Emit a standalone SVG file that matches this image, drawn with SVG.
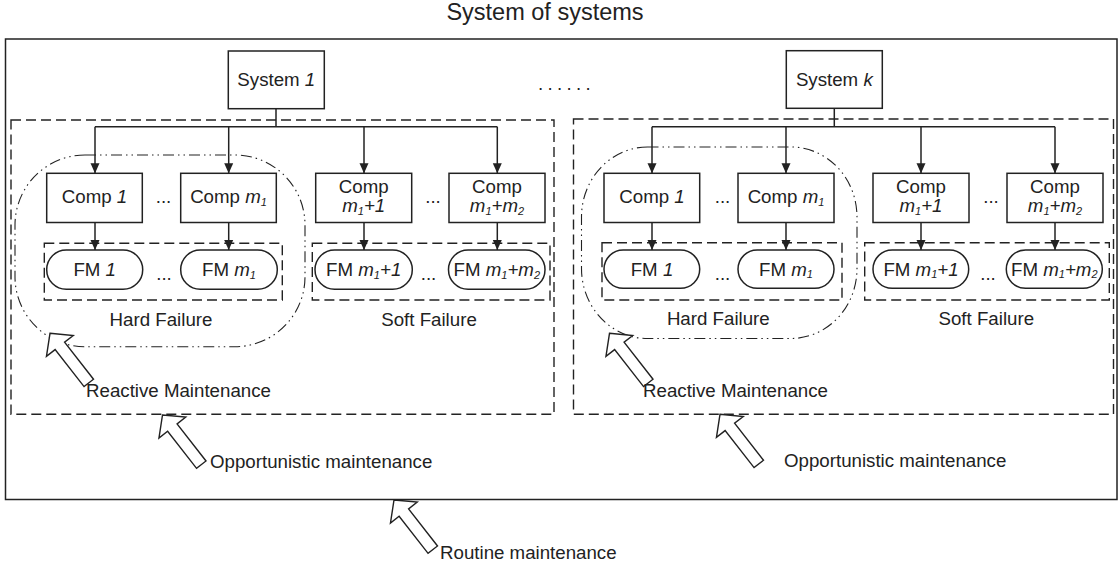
<svg xmlns="http://www.w3.org/2000/svg" xmlns:xlink="http://www.w3.org/1999/xlink" width="1118" height="568" viewBox="0 0 1118 568">
<style>
.t{font-family:"Liberation Sans",Arial,sans-serif;font-size:18.7px;fill:#222}
.ti{font-size:23.5px}
.i{font-style:italic}
.s{font-size:11px;font-style:italic}
.box{fill:#fff;stroke:#222;stroke-width:1.5}
.dash{fill:none;stroke:#222;stroke-width:1.4;stroke-dasharray:10 5}
.dd{fill:none;stroke:#222;stroke-width:1.1;stroke-dasharray:11 4 1.5 4 1.5 4}
.ln{fill:none;stroke:#222;stroke-width:1.5}
.ha{fill:#fff;stroke:#222;stroke-width:1.4;stroke-linejoin:miter}
</style>
<defs>
<marker id="ah" markerUnits="userSpaceOnUse" markerWidth="10" markerHeight="10" refX="10" refY="5" orient="auto">
<path d="M0,0.5 L10,5 L0,9.5 Z" fill="#222"/>
</marker>
<path id="hollow" d="M0,0 L17,16 L6,16 L6,63 L-6,63 L-6,16 L-17,16 Z"/>
</defs>

<rect id="outer" x="5.5" y="39" width="1111.5" height="460.5" fill="none" stroke="#222" stroke-width="1.5"/>
<text class="t ti" x="545" y="20" text-anchor="middle">System of systems</text>
<text class="t" x="538" y="90" letter-spacing="4.3">......</text>

<!-- Group 1 -->
<g id="group1">
<rect class="dash" x="11" y="120" width="543" height="294.3"/>
<rect class="dd" x="15" y="155" width="290" height="191.7" rx="70" ry="70"/>
<rect class="dash" x="44.3" y="243.3" width="238" height="56.7"/>
<rect class="dash" x="312.3" y="243.3" width="237.7" height="56.7"/>
</g>
<!-- Group 2 -->
<g id="group2">
<rect class="dash" x="573.5" y="119" width="540" height="295.3"/>
<rect class="dd" x="581.5" y="147" width="275.5" height="191.5" rx="66" ry="70"/>
<rect class="dash" x="602" y="242.7" width="240" height="57.3"/>
<rect class="dash" x="864.7" y="242.7" width="244.6" height="57.3"/>
</g>

<g id="connectors">
<path class="ln" d="M276,108.7 V126.7 M95,126.7 H497.3"/>
<path class="ln" marker-end="url(#ah)" d="M95,126.7 V173.3"/>
<path class="ln" marker-end="url(#ah)" d="M228.7,126.7 V173.3"/>
<path class="ln" marker-end="url(#ah)" d="M364,126.7 V173.3"/>
<path class="ln" marker-end="url(#ah)" d="M497.3,126.7 V173.3"/>
<path class="ln" marker-end="url(#ah)" d="M95,222.5 V250"/>
<path class="ln" marker-end="url(#ah)" d="M228.7,222.5 V250"/>
<path class="ln" marker-end="url(#ah)" d="M364,222.5 V250"/>
<path class="ln" marker-end="url(#ah)" d="M497.3,222.5 V250"/>
<path class="ln" d="M834.3,108.3 V126.7 M652,126.7 H1055"/>
<path class="ln" marker-end="url(#ah)" d="M652,126.7 V173.3"/>
<path class="ln" marker-end="url(#ah)" d="M786,126.7 V173.3"/>
<path class="ln" marker-end="url(#ah)" d="M921,126.7 V173.3"/>
<path class="ln" marker-end="url(#ah)" d="M1055,126.7 V173.3"/>
<path class="ln" marker-end="url(#ah)" d="M652,222.5 V250"/>
<path class="ln" marker-end="url(#ah)" d="M786,222.5 V250"/>
<path class="ln" marker-end="url(#ah)" d="M921,222.5 V250"/>
<path class="ln" marker-end="url(#ah)" d="M1055,222.5 V250"/>
</g>

<!-- System nodes -->
<g id="sys1"><rect class="box" x="228.3" y="51" width="96" height="57.7"/>
<text class="t" x="276.3" y="86" text-anchor="middle">System <tspan class="i">1</tspan></text></g>
<g id="sysk"><rect class="box" x="786.3" y="50.7" width="96" height="57.6"/>
<text class="t" x="834.3" y="85.5" text-anchor="middle">System <tspan class="i">k</tspan></text></g>

<!-- Components group 1 -->
<g id="c1a"><rect class="box" x="46.7" y="173.3" width="95.6" height="49.2"/>
<text class="t" x="94.5" y="203" text-anchor="middle">Comp <tspan class="i">1</tspan></text></g>
<g id="c1b"><rect class="box" x="180.7" y="173.3" width="95.6" height="49.2"/>
<text class="t" x="228.5" y="203" text-anchor="middle">Comp <tspan class="i">m</tspan><tspan class="s" dy="2.5">1</tspan></text></g>
<g id="c1c"><rect class="box" x="315.7" y="173.3" width="96" height="49.2"/>
<text class="t" x="363.7" y="192.7" text-anchor="middle">Comp</text>
<text class="t i" x="363.7" y="212.3" text-anchor="middle">m<tspan class="s" dy="2.5">1</tspan><tspan dy="-2.5">+1</tspan></text></g>
<g id="c1d"><rect class="box" x="449" y="173.3" width="96" height="49.2"/>
<text class="t" x="497" y="192.7" text-anchor="middle">Comp</text>
<text class="t i" x="497" y="212.3" text-anchor="middle">m<tspan class="s" dy="2.5">1</tspan><tspan dy="-2.5">+m</tspan><tspan class="s" dy="2.5">2</tspan></text></g>
<text class="t" x="163.5" y="203" text-anchor="middle" font-size="16">...</text>
<text class="t" x="433" y="203" text-anchor="middle" font-size="16">...</text>

<!-- FM group 1 -->
<g id="f1a"><rect class="box" x="46.7" y="250" width="96" height="39.3" rx="19.6"/>
<text class="t" x="94.7" y="276" text-anchor="middle">FM <tspan class="i">1</tspan></text></g>
<g id="f1b"><rect class="box" x="180.7" y="250" width="96.6" height="39.3" rx="19.6"/>
<text class="t" x="229" y="276" text-anchor="middle">FM <tspan class="i">m</tspan><tspan class="s" dy="2.5">1</tspan></text></g>
<g id="f1c"><rect class="box" x="315" y="250" width="97.3" height="39.3" rx="19.6"/>
<text class="t" x="363.7" y="276" text-anchor="middle">FM <tspan class="i">m</tspan><tspan class="s" dy="2.5">1</tspan><tspan class="i" dy="-2.5">+1</tspan></text></g>
<g id="f1d"><rect class="box" x="448.5" y="250" width="96.5" height="39.3" rx="19.6"/>
<text class="t" x="496.8" y="276" text-anchor="middle">FM <tspan class="i">m</tspan><tspan class="s" dy="2.5">1</tspan><tspan class="i" dy="-2.5">+m</tspan><tspan class="s" dy="2.5">2</tspan></text></g>
<text class="t" x="164" y="280" text-anchor="middle" font-size="16">...</text>
<text class="t" x="428.5" y="280" text-anchor="middle" font-size="16">...</text>
<text class="t" x="161" y="325.5" text-anchor="middle">Hard Failure</text>
<text class="t" x="429" y="325.5" text-anchor="middle">Soft Failure</text>

<!-- Components group 2 -->
<g id="c2a"><rect class="box" x="604" y="173.3" width="95.7" height="49.2"/>
<text class="t" x="652" y="203" text-anchor="middle">Comp <tspan class="i">1</tspan></text></g>
<g id="c2b"><rect class="box" x="738" y="173.3" width="96" height="49.2"/>
<text class="t" x="786" y="203" text-anchor="middle">Comp <tspan class="i">m</tspan><tspan class="s" dy="2.5">1</tspan></text></g>
<g id="c2c"><rect class="box" x="873" y="173.3" width="96" height="49.2"/>
<text class="t" x="921" y="192.7" text-anchor="middle">Comp</text>
<text class="t i" x="921" y="212.3" text-anchor="middle">m<tspan class="s" dy="2.5">1</tspan><tspan dy="-2.5">+1</tspan></text></g>
<g id="c2d"><rect class="box" x="1007" y="173.3" width="96" height="49.2"/>
<text class="t" x="1055" y="192.7" text-anchor="middle">Comp</text>
<text class="t i" x="1055" y="212.3" text-anchor="middle">m<tspan class="s" dy="2.5">1</tspan><tspan dy="-2.5">+m</tspan><tspan class="s" dy="2.5">2</tspan></text></g>
<text class="t" x="722.5" y="203" text-anchor="middle" font-size="16">...</text>
<text class="t" x="991" y="203" text-anchor="middle" font-size="16">...</text>

<!-- FM group 2 -->
<g id="f2a"><rect class="box" x="604" y="250" width="95.7" height="38.3" rx="19.2"/>
<text class="t" x="652" y="275.5" text-anchor="middle">FM <tspan class="i">1</tspan></text></g>
<g id="f2b"><rect class="box" x="738" y="250" width="96" height="38.3" rx="19.2"/>
<text class="t" x="786" y="275.5" text-anchor="middle">FM <tspan class="i">m</tspan><tspan class="s" dy="2.5">1</tspan></text></g>
<g id="f2c"><rect class="box" x="873" y="250" width="95.7" height="38.3" rx="19.2"/>
<text class="t" x="921" y="275.5" text-anchor="middle">FM <tspan class="i">m</tspan><tspan class="s" dy="2.5">1</tspan><tspan class="i" dy="-2.5">+1</tspan></text></g>
<g id="f2d"><rect class="box" x="1006.3" y="250" width="96" height="38.3" rx="19.2"/>
<text class="t" x="1054.3" y="275.5" text-anchor="middle">FM <tspan class="i">m</tspan><tspan class="s" dy="2.5">1</tspan><tspan class="i" dy="-2.5">+m</tspan><tspan class="s" dy="2.5">2</tspan></text></g>
<text class="t" x="722.5" y="280" text-anchor="middle" font-size="16">...</text>
<text class="t" x="988" y="280" text-anchor="middle" font-size="16">...</text>
<text class="t" x="718.3" y="325" text-anchor="middle">Hard Failure</text>
<text class="t" x="986.3" y="325" text-anchor="middle">Soft Failure</text>

<!-- Maintenance arrows -->
<g id="maint">
<use xlink:href="#hollow" class="ha" transform="translate(50,333.3) rotate(-38)"/>
<use xlink:href="#hollow" class="ha" transform="translate(162.5,415) rotate(-38)"/>
<use xlink:href="#hollow" class="ha" transform="translate(609.5,333.3) rotate(-38)"/>
<use xlink:href="#hollow" class="ha" transform="translate(720,414.3) rotate(-38)"/>
<use xlink:href="#hollow" class="ha" transform="translate(394,500) rotate(-38)"/>
<text class="t" x="86" y="396.5">Reactive Maintenance</text>
<text class="t" x="643" y="396.5">Reactive Maintenance</text>
<text class="t" x="210" y="467.5">Opportunistic maintenance</text>
<text class="t" x="784" y="466.5">Opportunistic maintenance</text>
<text class="t" x="440" y="559">Routine maintenance</text>
</g>
</svg>
